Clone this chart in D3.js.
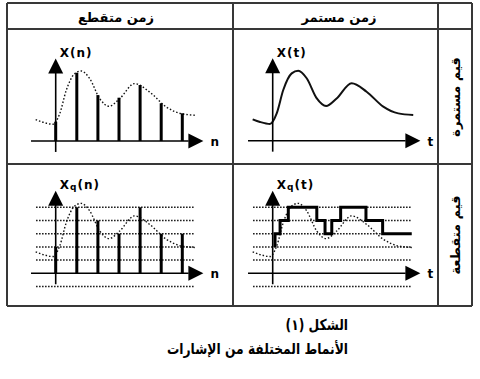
<!DOCTYPE html>
<html>
<head>
<meta charset="utf-8">
<script src="https://cdn.jsdelivr.net/npm/d3@7"></script>
<style>
  body { margin: 0; background: #fff; }
</style>
</head>
<body>
<div id="chart"></div>
<script>
const width = 480
const height = 379

// texts
const colTitles = ["زمن متقطع", "زمن مستمر"]
const rowTitles = ["قيم مستمرة", "قيم متقطعة"]
const caption = ["الشكل (١)", "الأنماط المختلفة من الإشارات"]

// analog signal (t in sample periods, value in quantisation steps)
const sigT = [-0.95, -0.6, -0.13, 0.19, 0.5, 0.9, 1.21, 1.61, 2.09, 2.53, 3.03, 3.74, 4.45, 5.24, 5.95, 6.66]
const sigV = [1.62, 1.42, 1.27, 2.07, 3.84, 5.1, 5.3, 4.73, 3.2, 2.63, 3.2, 4.35, 3.71, 2.58, 2.07, 1.95]

// samples
const sampleN = [0, 1, 2, 3, 4, 5, 6]
const sampleV = [1.46, 5.17, 3.48, 3.28, 4.24, 2.86, 2.1]
const sampleQ = [2, 5, 4, 3, 5, 3, 3]

// quantisation levels (dotted lines)
const levels = [-1, 1, 2, 3, 4, 5]

// quantised continuous signal (staircase)
const stepT = [0.11, 0.11, 0.35, 0.74, 2.09, 2.48, 2.8, 3.22, 4.42, 5.21, 6.59]
const stepQ = [2, 3, 4, 5, 4, 3, 4, 5, 4, 3, 3]

const arabic = "'DejaVu Sans', sans-serif"
const latin = "'DejaVu Sans', 'Liberation Sans', sans-serif"

const svg = d3.select("#chart")
  .append("svg")
  .attr("width", width)
  .attr("height", height)
  .attr("viewBox", [0, 0, width, height])

// table grid
const gx = [7, 233, 438, 472]
const gy = [3, 29, 164, 306]
const grid = svg.append("g")
  .attr("stroke", "#383838")
  .attr("stroke-width", 2)
gx.forEach(v => grid.append("line").attr("x1", v).attr("x2", v).attr("y1", gy[0]).attr("y2", gy[3]))
gy.forEach(v => grid.append("line").attr("x1", gx[0]).attr("x2", gx[3]).attr("y1", v).attr("y2", v))

// column headers
svg.selectAll(".colTitle")
  .data(colTitles)
  .join("text")
  .attr("class", "colTitle")
  .attr("x", (d, i) => i == 0 ? 116 : 339)
  .attr("y", 22)
  .attr("direction", "rtl")
  .attr("text-anchor", "middle")
  .attr("font-family", arabic)
  .attr("font-weight", "bold")
  .attr("font-size", 13)
  .text(d => d)

// row headers (rotated)
svg.selectAll(".rowTitle")
  .data(rowTitles)
  .join("text")
  .attr("class", "rowTitle")
  .attr("transform", (d, i) => `translate(460,${i == 0 ? 97 : 235}) rotate(-90)`)
  .attr("direction", "rtl")
  .attr("text-anchor", "middle")
  .attr("font-family", arabic)
  .attr("font-weight", "bold")
  .attr("font-size", 13)
  .text(d => d)

// caption (the print face is narrower than DejaVu, squeeze it)
svg.selectAll(".caption")
  .data(caption)
  .join("text")
  .attr("class", "caption")
  .attr("transform", (d, i) => `translate(348,${i == 0 ? 330 : 354}) scale(0.82,1)`)
  .attr("direction", "rtl")
  .attr("text-anchor", "start")
  .attr("font-family", arabic)
  .attr("font-weight", "bold")
  .attr("font-size", 15)
  .text(d => d)

const signal = sigT.map((t, i) => [t, sigV[i]])
const steps = stepT.map((t, i) => [t, stepQ[i]])

function panel(ox, oy, discrete, quant) {
  const x = d3.scaleLinear().domain([0, 1]).range([ox, ox + 21.1])
  const y = d3.scaleLinear().domain([0, 1]).range([oy, oy - 13.2])
  const g = svg.append("g")

  if (quant) {
    g.selectAll(".level")
      .data(levels)
      .join("line")
      .attr("x1", x(-0.93))
      .attr("x2", x(6.6))
      .attr("y1", d => y(d))
      .attr("y2", d => y(d))
      .attr("stroke", "#111")
      .attr("stroke-width", 1.5)
      .attr("stroke-dasharray", "1.5,1.5")
  }

  const line = d3.line()
    .x(d => x(d[0]))
    .y(d => y(d[1]))
    .curve(d3.curveMonotoneX)

  g.append("path")
    .datum(signal)
    .attr("d", line)
    .attr("fill", "none")
    .attr("stroke", "#111")
    .attr("stroke-width", discrete || quant ? 1.4 : 2)
    .attr("stroke-dasharray", discrete || quant ? "1.5,2" : null)

  // axes
  g.append("line")
    .attr("x1", x(-1.17)).attr("x2", x(6.3))
    .attr("y1", y(0)).attr("y2", y(0))
    .attr("stroke", "#000").attr("stroke-width", 1.6)
  g.append("line")
    .attr("x1", x(0)).attr("x2", x(0))
    .attr("y1", y(-0.83)).attr("y2", y(5.5))
    .attr("stroke", "#000").attr("stroke-width", 1.6)
  g.append("path")
    .attr("d", `M${x(7)},${y(0)}L${x(7) - 15},${y(0) - 7.5}L${x(7) - 15},${y(0) + 7.5}Z`)
    .attr("fill", "#000")
  g.append("path")
    .attr("d", `M${x(0)},${y(6.25)}L${x(0) - 7.5},${y(6.25) + 15}L${x(0) + 7.5},${y(6.25) + 15}Z`)
    .attr("fill", "#000")

  if (discrete) {
    const vals = quant ? sampleQ : sampleV
    g.selectAll(".stem")
      .data(sampleN)
      .join("line")
      .attr("x1", d => x(d)).attr("x2", d => x(d))
      .attr("y1", y(0))
      .attr("y2", (d, i) => y(vals[i]))
      .attr("stroke", "#000")
      .attr("stroke-width", 3)
  } else if (quant) {
    g.append("path")
      .datum(steps)
      .attr("d", d3.line().x(d => x(d[0])).y(d => y(d[1])).curve(d3.curveStepAfter))
      .attr("fill", "none")
      .attr("stroke", "#000")
      .attr("stroke-width", 3)
  }

  // labels
  const v = discrete ? "n" : "t"
  const lab = g.append("text")
    .attr("x", x(0) + 4)
    .attr("y", oy - 84)
    .attr("font-family", latin)
    .attr("font-weight", "bold")
    .attr("font-size", 12)
    .attr("letter-spacing", 1)
    .attr("fill", "#000")
  lab.append("tspan").text("X")
  if (quant) {
    lab.append("tspan").attr("font-size", 9).attr("dy", 1).text("q")
    lab.append("tspan").attr("dy", -1).text(`(${v})`)
  } else {
    lab.append("tspan").text(`(${v})`)
  }

  g.append("text")
    .attr("x", x(7) + 7)
    .attr("y", y(0) + 5)
    .attr("font-family", latin)
    .attr("font-weight", "bold")
    .attr("font-size", 12)
    .text(v)
}

panel(55.7, 141, true, false)
panel(272.7, 140.7, false, false)
panel(55.7, 273.3, true, true)
panel(272.7, 273.3, false, true)
</script>
</body>
</html>
